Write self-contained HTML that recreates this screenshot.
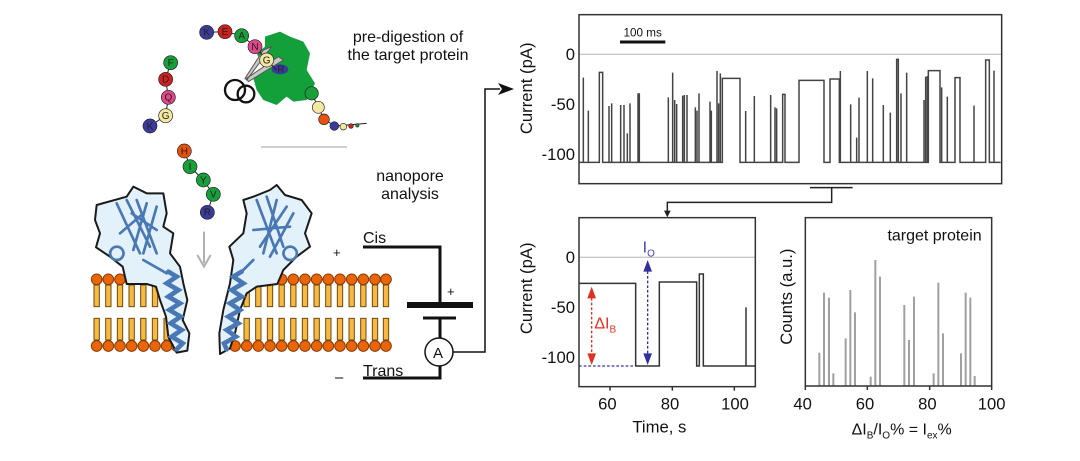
<!DOCTYPE html>
<html><head><meta charset="utf-8"><style>
html,body{margin:0;padding:0;background:#fff;}
svg{display:block;font-family:"Liberation Sans",Arial,sans-serif;}
</style></head><body>
<svg width="1080" height="461" viewBox="0 0 1080 461" xmlns="http://www.w3.org/2000/svg">
<rect width="1080" height="461" fill="#fff"/>
<g transform="scale(0.33333)">
  <g id="mem">
    <g fill="#f7b940" stroke="#6a4a10" stroke-width="3">
      <rect x="282" y="855" width="16" height="65"/><rect x="317" y="855" width="16" height="65"/><rect x="352" y="855" width="16" height="65"/><rect x="387" y="855" width="16" height="65"/><rect x="422" y="855" width="16" height="65"/><rect x="457" y="855" width="16" height="65"/><rect x="492" y="855" width="16" height="65"/>
      <rect x="282" y="955" width="16" height="65"/><rect x="317" y="955" width="16" height="65"/><rect x="352" y="955" width="16" height="65"/><rect x="387" y="955" width="16" height="65"/><rect x="422" y="955" width="16" height="65"/><rect x="457" y="955" width="16" height="65"/><rect x="492" y="955" width="16" height="65"/>
      <rect x="732" y="855" width="16" height="65"/><rect x="767" y="855" width="16" height="65"/><rect x="802" y="855" width="16" height="65"/><rect x="837" y="855" width="16" height="65"/><rect x="872" y="855" width="16" height="65"/><rect x="907" y="855" width="16" height="65"/><rect x="942" y="855" width="16" height="65"/><rect x="977" y="855" width="16" height="65"/><rect x="1012" y="855" width="16" height="65"/><rect x="1047" y="855" width="16" height="65"/><rect x="1082" y="855" width="16" height="65"/><rect x="1117" y="855" width="16" height="65"/><rect x="1150" y="855" width="16" height="65"/>
      <rect x="732" y="955" width="16" height="65"/><rect x="767" y="955" width="16" height="65"/><rect x="802" y="955" width="16" height="65"/><rect x="837" y="955" width="16" height="65"/><rect x="872" y="955" width="16" height="65"/><rect x="907" y="955" width="16" height="65"/><rect x="942" y="955" width="16" height="65"/><rect x="977" y="955" width="16" height="65"/><rect x="1012" y="955" width="16" height="65"/><rect x="1047" y="955" width="16" height="65"/><rect x="1082" y="955" width="16" height="65"/><rect x="1117" y="955" width="16" height="65"/><rect x="1150" y="955" width="16" height="65"/>
    </g>
    <g fill="#e8650a" stroke="#8a3a05" stroke-width="3">
      <circle cx="290" cy="838" r="16"/><circle cx="325" cy="838" r="16"/><circle cx="360" cy="838" r="16"/><circle cx="395" cy="838" r="16"/><circle cx="430" cy="838" r="16"/><circle cx="465" cy="838" r="16"/><circle cx="500" cy="838" r="16"/>
      <circle cx="290" cy="1038" r="16"/><circle cx="325" cy="1038" r="16"/><circle cx="360" cy="1038" r="16"/><circle cx="395" cy="1038" r="16"/><circle cx="430" cy="1038" r="16"/><circle cx="465" cy="1038" r="16"/><circle cx="500" cy="1038" r="16"/><circle cx="530" cy="1038" r="16"/>
      <circle cx="740" cy="838" r="16"/><circle cx="775" cy="838" r="16"/><circle cx="810" cy="838" r="16"/><circle cx="845" cy="838" r="16"/><circle cx="880" cy="838" r="16"/><circle cx="915" cy="838" r="16"/><circle cx="950" cy="838" r="16"/><circle cx="985" cy="838" r="16"/><circle cx="1020" cy="838" r="16"/><circle cx="1055" cy="838" r="16"/><circle cx="1090" cy="838" r="16"/><circle cx="1125" cy="838" r="16"/><circle cx="1158" cy="838" r="16"/>
      <circle cx="705" cy="1038" r="16"/><circle cx="740" cy="1038" r="16"/><circle cx="775" cy="1038" r="16"/><circle cx="810" cy="1038" r="16"/><circle cx="845" cy="1038" r="16"/><circle cx="880" cy="1038" r="16"/><circle cx="915" cy="1038" r="16"/><circle cx="950" cy="1038" r="16"/><circle cx="985" cy="1038" r="16"/><circle cx="1020" cy="1038" r="16"/><circle cx="1055" cy="1038" r="16"/><circle cx="1090" cy="1038" r="16"/><circle cx="1125" cy="1038" r="16"/><circle cx="1158" cy="1038" r="16"/>
    </g>
  </g>
  <path d="M290,615 L380,590 L400,560 L440,580 L490,580 L500,640 L490,680 L520,700 L510,760 L540,800 L550,850 L562,900 L548,960 L568,1000 L562,1052 L530,1058 L505,1010 L498,950 L480,900 L468,860 L440,852 L380,852 L368,800 L330,770 L288,742 L300,700 L285,660 Z" fill="#e3f2fa" stroke="#1a1a1a" stroke-width="6" stroke-linejoin="round"/>
  <path d="M760,590 L810,570 L830,555 L855,585 L905,600 L935,640 L915,700 L930,740 L890,770 L850,810 L832,852 L770,860 L740,880 L720,930 L705,1000 L690,1045 L660,1062 L658,1000 L670,930 L690,850 L700,780 L688,740 L730,700 L740,640 L730,600 Z" fill="#e3f2fa" stroke="#1a1a1a" stroke-width="6" stroke-linejoin="round"/>
  <g fill="none" stroke="#4a78b5" stroke-linecap="round">
    <polyline stroke-width="14" points="505,815 530,830 500,850 535,870 505,890 540,910 508,930 542,950 512,970 545,990 515,1010 548,1030 530,1048"/>
    <polyline stroke-width="14" points="725,815 700,830 730,850 695,870 725,890 690,910 720,930 685,950 715,970 680,990 708,1010 672,1030 680,1048"/>
    <path stroke-width="8" d="M350,610 L420,760 M380,600 L450,740 M410,600 L470,760 M440,610 L400,750 M470,620 L430,760 M395,640 L470,690 M360,700 L430,640 M350,740 a20,20 0 1,0 1,0 M430,780 L500,820"/>
    <path stroke-width="8" d="M770,600 L830,760 M800,590 L850,740 M830,600 L790,760 M860,620 L780,740 M880,640 L810,770 M760,690 L870,680 M870,740 a20,20 0 1,0 1,0 M760,780 L720,820"/>
  </g>
  <path d="M612,695 L612,790 M592,765 L612,800 L632,765" stroke="#b0b0b0" stroke-width="6" fill="none"/>
  <path d="M795,110 L840,95 L870,110 L910,125 L930,160 L920,210 L945,250 L920,300 L880,305 L860,290 L830,315 L790,300 L770,270 L760,235 L790,200 L770,160 L795,140 Z" fill="#13a03a"/>
  <ellipse cx="840" cy="208" rx="25" ry="15" fill="#3a3a9a"/>
  <path d="M740,240 L815,140 L790,150 L735,235 Z M745,245 L850,180 L835,170 L740,235 Z" fill="#c8c8c8" stroke="#555" stroke-width="3"/>
  <circle cx="705" cy="270" r="30" fill="none" stroke="#111" stroke-width="7"/>
  <circle cx="738" cy="282" r="25" fill="none" stroke="#111" stroke-width="7"/>
  <g stroke="#222" stroke-width="3">
    <polyline fill="none" points="620,97 675,95 725,107 765,140 800,180 830,210"/>
    <polyline fill="none" points="512,188 497,238 505,292 497,347 450,378"/>
    <polyline fill="none" points="553,453 570,500 610,540 640,583 622,637"/>
    <polyline fill="none" points="935,280 955,322 972,358 1005,378 1100,370"/>
  </g>
  <g stroke="#222" stroke-width="2">
    <circle cx="620" cy="97" r="21" fill="#3b3b9b"/><circle cx="675" cy="95" r="21" fill="#cf2020"/><circle cx="725" cy="107" r="21" fill="#17a03a"/><circle cx="765" cy="140" r="21" fill="#e0488a"/><circle cx="800" cy="180" r="21" fill="#f3e8a0"/>
    <circle cx="512" cy="188" r="21" fill="#17a03a"/><circle cx="497" cy="238" r="21" fill="#cf2020"/><circle cx="505" cy="292" r="21" fill="#e0488a"/><circle cx="497" cy="347" r="21" fill="#f3e8a0"/><circle cx="450" cy="378" r="21" fill="#3b3b9b"/>
    <circle cx="553" cy="453" r="21" fill="#e8520f"/><circle cx="570" cy="500" r="21" fill="#17a03a"/><circle cx="610" cy="540" r="21" fill="#17a03a"/><circle cx="640" cy="583" r="21" fill="#17a03a"/><circle cx="622" cy="637" r="21" fill="#3b3b9b"/>
    <circle cx="935" cy="280" r="20" fill="#17a03a"/><circle cx="955" cy="322" r="18" fill="#f3e8a0"/><circle cx="972" cy="358" r="16" fill="#e8520f"/><circle cx="1003" cy="378" r="13" fill="#3b3b9b"/><circle cx="1030" cy="380" r="10" fill="#f3e8a0"/><circle cx="1053" cy="378" r="7" fill="#cf2020"/><circle cx="1072" cy="376" r="5" fill="#17a03a"/>
  </g>
  <g font-size="30" text-anchor="middle" fill="#222">
    <text x="620" y="107">K</text><text x="675" y="105">E</text><text x="725" y="117">A</text><text x="765" y="150">N</text><text x="800" y="190">G</text><text x="843" y="218">R</text>
    <text x="512" y="198">F</text><text x="497" y="248">D</text><text x="505" y="302">Q</text><text x="497" y="357">G</text><text x="450" y="388">K</text>
    <text x="553" y="463">H</text><text x="570" y="510">I</text><text x="610" y="550">Y</text><text x="640" y="593">V</text><text x="622" y="647">R</text>
  </g>
</g>
<g font-size="16" fill="#111" text-anchor="middle">
  <text x="408" y="42">pre-digestion of</text>
  <text x="408" y="60">the target protein</text>
  <text x="410" y="181">nanopore</text>
  <text x="410" y="199">analysis</text>
</g>
<line x1="261" y1="147" x2="347" y2="147" stroke="#c0c0c0" stroke-width="1.5"/>
<g stroke="#111" fill="none">
  <polyline points="363,247 440,247 440,305" stroke-width="3"/>
  <line x1="407" y1="305" x2="473" y2="305" stroke-width="6"/>
  <line x1="423" y1="318" x2="456" y2="318" stroke-width="3"/>
  <line x1="440" y1="318" x2="440" y2="338" stroke-width="3"/>
  <circle cx="439" cy="352" r="14" stroke-width="1.5" fill="#fff"/>
  <polyline points="440,366 440,378 363,378" stroke-width="3"/>
  <polyline points="453,352 485,352 485,89 500,89" stroke-width="1.5"/>
</g>
<path d="M498,83 L514,89 L498,95 L502,89 Z" fill="#111"/>
<g font-size="16" fill="#111">
  <text x="363" y="243">Cis</text>
  <text x="363" y="376">Trans</text>
  <text x="433" y="358" font-size="15">A</text>
  <text x="333" y="257" font-size="13">+</text>
  <text x="447" y="296" font-size="13">+</text>
  <text x="335" y="382" font-size="15">–</text>
</g>

<g transform="translate(500,0) scale(0.33333)">
  <line x1="237" y1="163" x2="1505" y2="163" stroke="#c8c8c8" stroke-width="4"/>
  <path fill="none" stroke="#444" stroke-width="4.5" d="M237,487 H250 V233 V487 H265 V332 V487 H298 V217 H308 V487 H327 V318 V487 H335 V310 V487 H362 V315 V487 H372 V315 V487 H382 V400 V487 H390 V310 V487 H414 V282 H418 V487 H505 V292 V487 H518 V218 V487 H524 V300 V487 H530 V312 V487 H548 V287 V487 H553 V285 V487 H561 V285 V487 H586 V322 V487 H591 V332 V487 H597 V280 V487 H630 V305 V487 H634 V332 V487 H651 V213 V487 H656 V310 V487 H661 V220 V487 H667 V235 H720 V487 H737 V333 V487 H763 V288 V487 H812 V285 V487 H825 V322 V487 H830 V325 V487 H848 V283 H855 V487 H897 V241 H972 V487 H990 V237 H1018 V487 H1021 V213 V487 H1052 V313 V487 H1070 V413 V487 H1077 V293 V487 H1102 V213 V487 H1118 V235 V487 H1150 V315 V487 H1171 V338 V487 H1190 V178 H1195 V487 H1203 V280 V487 H1220 V218 V487 H1272 V300 V487 H1277 V230 V487 H1282 V228 V487 H1285 V212 H1320 V487 H1325 V262 V487 H1342 V290 V487 H1365 V233 H1380 V487 H1422 V317 V487 H1457 V180 H1468 V487 H1482 V212 V487 H1502"/>
  <rect x="237" y="44" width="1268" height="507" fill="none" stroke="#333" stroke-width="4.5"/>
  <line x1="360" y1="126" x2="496" y2="126" stroke="#111" stroke-width="9"/>
  <text x="428" y="110" font-size="35" text-anchor="middle" fill="#111">100 ms</text>
  <g font-size="50" fill="#111" text-anchor="end">
    <text x="225" y="180">0</text><text x="225" y="330">-50</text><text x="225" y="480">-100</text>
  </g>
  <text transform="translate(96,265) rotate(-90)" font-size="50" text-anchor="middle" fill="#111">Current (pA)</text>
  <line x1="930" y1="563" x2="1058" y2="563" stroke="#222" stroke-width="4.5"/>
  <polyline points="995,563 995,607 502,607 502,640" fill="none" stroke="#222" stroke-width="4.5"/>
  <path d="M492,632 L502,652 L512,632 Z" fill="#222"/>

  <line x1="237" y1="772" x2="766" y2="772" stroke="#c8c8c8" stroke-width="4"/>
  <line x1="237" y1="1098" x2="407" y2="1098" stroke="#3030a0" stroke-width="3.5" stroke-dasharray="8,6"/>
  <path fill="none" stroke="#333" stroke-width="4.5" d="M237,850 H407 V1098 H478 V846 H590 V1098 H598 V822 H610 V1098 H738 V922 V1098 H766"/>
  <rect x="237" y="653" width="529" height="507" fill="none" stroke="#333" stroke-width="4.5"/>
  <line x1="275" y1="880" x2="275" y2="1070" stroke="#e03020" stroke-width="4" stroke-dasharray="8,6"/>
  <path d="M262,895 L275,860 L288,895 Z M262,1060 L275,1095 L288,1060 Z" fill="#e03020"/>
  <line x1="443" y1="800" x2="443" y2="1070" stroke="#3030a0" stroke-width="4" stroke-dasharray="8,6"/>
  <path d="M430,815 L443,780 L456,815 Z M430,1060 L443,1095 L456,1060 Z" fill="#3030a0"/>
  <text x="283" y="985" font-size="48" fill="#e03020">ΔI<tspan font-size="30" dy="12">B</tspan></text>
  <text x="428" y="758" font-size="48" fill="#4040c0">I<tspan font-size="30" dy="12">O</tspan></text>
  <g font-size="50" fill="#111" text-anchor="end">
    <text x="225" y="789">0</text><text x="225" y="939">-50</text><text x="225" y="1089">-100</text>
  </g>
  <g stroke="#333" stroke-width="4.5"><line x1="330" y1="1160" x2="330" y2="1172"/><line x1="517" y1="1160" x2="517" y2="1172"/><line x1="703" y1="1160" x2="703" y2="1172"/></g>
  <g font-size="50" fill="#111" text-anchor="middle">
    <text x="322" y="1228">60</text><text x="510" y="1228">80</text><text x="705" y="1228">100</text>
    <text x="478" y="1298">Time, s</text>
  </g>
  <text transform="translate(96,865) rotate(-90)" font-size="50" text-anchor="middle" fill="#111">Current (pA)</text>

  <g stroke="#a0a0a0" stroke-width="6">
    <line x1="958" y1="1158" x2="958" y2="1058"/><line x1="972" y1="1158" x2="972" y2="878"/><line x1="987" y1="1158" x2="987" y2="893"/><line x1="1000" y1="1158" x2="1000" y2="1120"/>
    <line x1="1037" y1="1158" x2="1037" y2="1015"/><line x1="1051" y1="1158" x2="1051" y2="870"/><line x1="1065" y1="1158" x2="1065" y2="937"/>
    <line x1="1112" y1="1158" x2="1112" y2="1130"/><line x1="1126" y1="1158" x2="1126" y2="780"/><line x1="1140" y1="1158" x2="1140" y2="830"/>
    <line x1="1213" y1="1158" x2="1213" y2="915"/><line x1="1227" y1="1158" x2="1227" y2="1020"/><line x1="1242" y1="1158" x2="1242" y2="890"/>
    <line x1="1301" y1="1158" x2="1301" y2="1120"/><line x1="1315" y1="1158" x2="1315" y2="848"/><line x1="1329" y1="1158" x2="1329" y2="1000"/>
    <line x1="1383" y1="1158" x2="1383" y2="1060"/><line x1="1397" y1="1158" x2="1397" y2="878"/><line x1="1411" y1="1158" x2="1411" y2="893"/><line x1="1424" y1="1158" x2="1424" y2="1128"/>
  </g>
  <rect x="916" y="653" width="559" height="505" fill="none" stroke="#333" stroke-width="4.5"/>
  <g stroke="#333" stroke-width="4.5"><line x1="916" y1="1158" x2="916" y2="1170"/><line x1="1102" y1="1158" x2="1102" y2="1170"/><line x1="1289" y1="1158" x2="1289" y2="1170"/><line x1="1475" y1="1158" x2="1475" y2="1170"/></g>
  <g font-size="50" fill="#111" text-anchor="middle">
    <text x="908" y="1228">40</text><text x="1095" y="1228">60</text><text x="1282" y="1228">80</text><text x="1475" y="1228">100</text>
  </g>
  <text x="1445" y="722" font-size="48" text-anchor="end" fill="#111">target protein</text>
  <text transform="translate(876,890) rotate(-90)" font-size="50" text-anchor="middle" fill="#111">Counts (a.u.)</text>
  <text x="1205" y="1303" font-size="48" text-anchor="middle" fill="#111">ΔI<tspan font-size="30" dy="12">B</tspan><tspan dy="-12">/I</tspan><tspan font-size="30" dy="12">O</tspan><tspan dy="-12">% = I</tspan><tspan font-size="30" dy="12">ex</tspan><tspan dy="-12">%</tspan></text>
</g>
</svg>
</body></html>
